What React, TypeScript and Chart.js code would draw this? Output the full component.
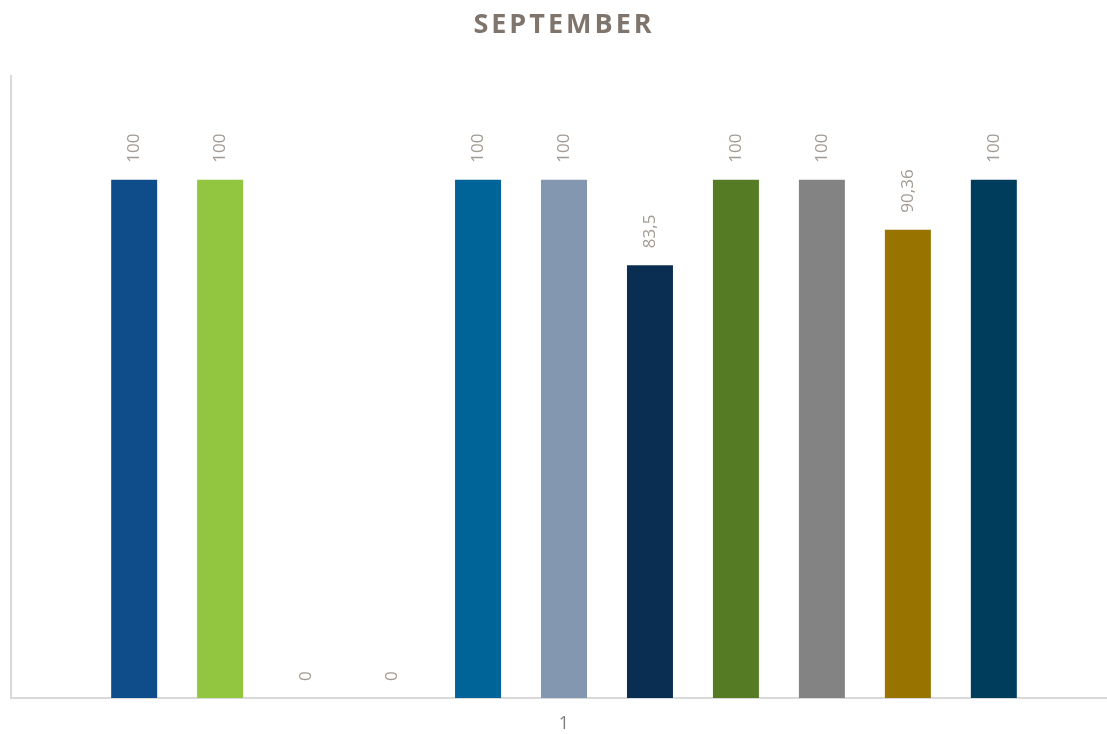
import React, { useEffect, useRef } from "react";
import { Chart, registerables } from "chart.js";

Chart.register(...registerables);

const title = "SEPTEMBER";
const categories = ["1"];
const seriesNames = [
  "Series 1", "Series 2", "Series 3", "Series 4", "Series 5", "Series 6",
  "Series 7", "Series 8", "Series 9", "Series 10", "Series 11",
];
const seriesValues = [100, 100, 0, 0, 100, 100, 83.5, 100, 100, 90.36, 100];
const seriesColors = [
  "#0e4d8a", "#92c640", "#4a7ebb", "#c0504d", "#006499", "#8497b0",
  "#0a2e52", "#567b25", "#838383", "#997300", "#003d5c",
];
const yMin = 0;
const yMax = 120;

const labelPlugin = {
  id: "barLabels",
  afterDatasetsDraw(chart: any) {
    const ctx = chart.ctx;
    ctx.save();
    ctx.fillStyle = "#a39b93";
    ctx.font = "17px 'Open Sans'";
    ctx.textAlign = "left";
    ctx.textBaseline = "middle";
    chart.data.datasets.forEach((ds: any, i: number) => {
      const meta = chart.getDatasetMeta(i);
      meta.data.forEach((el: any, j: number) => {
        const v = ds.data[j];
        const text = String(v).replace(".", ",");
        ctx.save();
        ctx.translate(el.x, el.y - 17);
        ctx.rotate(-Math.PI / 2);
        ctx.fillText(text, 0, 0);
        ctx.restore();
      });
    });
    ctx.restore();
  },
};

const titlePlugin = {
  id: "spacedTitle",
  afterDraw(chart: any) {
    const ctx = chart.ctx;
    ctx.save();
    ctx.fillStyle = "#7f756d";
    ctx.font = "bold 27px 'Open Sans'";
    (ctx as any).letterSpacing = "3px";
    ctx.textAlign = "center";
    ctx.textBaseline = "middle";
    ctx.fillText(title, 564, 25);
    ctx.restore();
  },
};

export default function App() {
  const ref = useRef<HTMLCanvasElement>(null);
  useEffect(() => {
    if (!ref.current) return;
    const chart = new Chart(ref.current, {
      type: "bar",
      data: {
        labels: categories,
        datasets: seriesValues.map((v, i) => ({
          label: seriesNames[i],
          data: [v],
          backgroundColor: seriesColors[i],
          borderWidth: 0,
        })),
      },
      options: {
        animation: false,
        responsive: false,
        maintainAspectRatio: false,
        layout: { padding: { top: 76, left: 0, right: 0, bottom: 0 } },
        datasets: { bar: { categoryPercentage: 0.855, barPercentage: 0.535 } },
        plugins: {
          legend: { display: false },
          title: { display: false },
          tooltip: { enabled: false },
        },
        scales: {
          x: {
            grid: { display: false, drawTicks: false },
            border: { display: true, color: "#d9d9d9", width: 2 },
            ticks: { color: "#7f7f7f", font: { family: "'Open Sans'", size: 18 }, padding: 15 },
            afterFit: (s: any) => { s.height = 36; },
          },
          y: {
            min: yMin,
            max: yMax,
            grid: { display: false, drawTicks: false },
            border: { display: true, color: "#d9d9d9", width: 2 },
            ticks: { display: false },
            afterFit: (s: any) => { s.width = 11; },
          },
        },
      },
      plugins: [labelPlugin, titlePlugin],
    });
    return () => chart.destroy();
  }, []);
  return (
    <div style={{ position: "absolute", left: 0, top: 0, width: 1107, height: 734, overflow: "hidden", background: "#fff" }}>
      <canvas ref={ref} width={1117} height={734} style={{ width: 1117, height: 734, display: "block" }} />
    </div>
  );
}
